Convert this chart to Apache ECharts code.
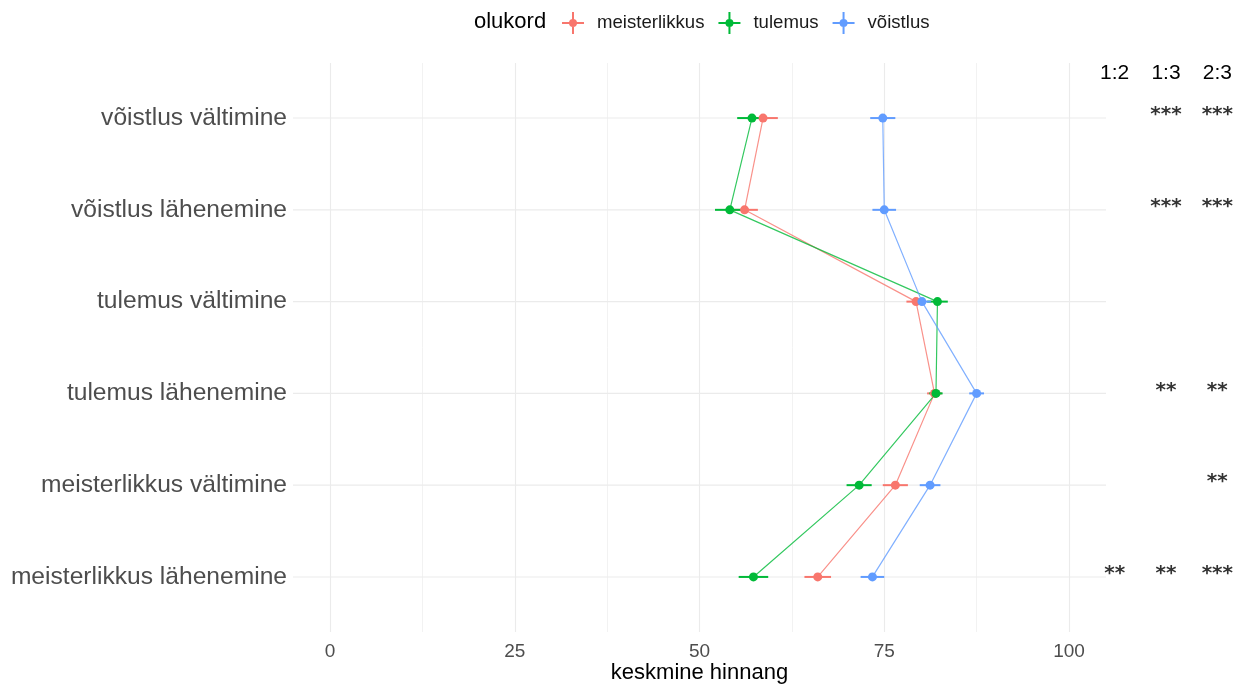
<!DOCTYPE html>
<html>
<head>
<meta charset="utf-8">
<title>keskmine hinnang</title>
<script src="https://cdn.jsdelivr.net/npm/echarts@6/dist/echarts.min.js"></script>
<style>
  html, body { margin: 0; padding: 0; background: #fff; }
  #chart { width: 1244px; height: 686px; }
</style>
</head>
<body>
<div id="chart"></div>
<script>
// kategooriad ülevalt alla
var categories = [
  'võistlus vältimine',
  'võistlus lähenemine',
  'tulemus vältimine',
  'tulemus lähenemine',
  'meisterlikkus vältimine',
  'meisterlikkus lähenemine'
];
var groups = ['meisterlikkus', 'tulemus', 'võistlus'];

var meisterlikkusMean = [58.6, 56.1, 79.3, 81.8, 76.5, 66.0];
var meisterlikkusSe = [2.0, 1.8, 1.3, 1.0, 1.7, 1.8];
var tulemusMean = [57.1, 54.1, 82.2, 82.0, 71.6, 57.3];
var tulemusSe = [2.0, 2.0, 1.4, 0.9, 1.7, 2.0];
var voistlusMean = [74.8, 75.0, 80.1, 87.5, 81.2, 73.4];
var voistlusSe = [1.7, 1.6, 1.2, 1.0, 1.4, 1.6];

// paariviisilised võrdlused
var pairLabels = ['1:2', '1:3', '2:3'];
var sig12 = ['', '', '', '', '', '**'];
var sig13 = ['***', '***', '', '**', '', '**'];
var sig23 = ['***', '***', '', '**', '**', '***'];

var colors = ['#F8766D', '#00BA38', '#619CFF'];
var means = [meisterlikkusMean, tulemusMean, voistlusMean];
var ses = [meisterlikkusSe, tulemusSe, voistlusSe];
var font = 'Liberation Sans, Arial, sans-serif';

var chart = echarts.init(document.getElementById('chart'));

function errorBar(params, api) {
  var a = api.coord([api.value(0), api.value(2)]);
  var b = api.coord([api.value(1), api.value(2)]);
  return {
    type: 'line',
    shape: { x1: a[0], y1: a[1], x2: b[0], y2: b[1] },
    style: { stroke: api.visual('color'), lineWidth: 2 }
  };
}

var series = [];

// horisontaalsed abijooned
series.push({
  type: 'custom',
  xAxisIndex: 1,
  yAxisIndex: 1,
  silent: true,
  z: 0,
  data: categories.map(function (c, i) { return [i]; }),
  renderItem: function (params, api) {
    var a = api.coord([0, api.value(0)]);
    var b = api.coord([1, api.value(0)]);
    return {
      type: 'line',
      shape: { x1: a[0], y1: a[1], x2: b[0], y2: b[1] },
      style: { stroke: '#ebebeb', lineWidth: 1.1 }
    };
  }
});

groups.forEach(function (g, k) {
  series.push({
    name: g,
    type: 'custom',
    xAxisIndex: 0,
    yAxisIndex: 0,
    itemStyle: { color: colors[k] },
    encode: { x: [0, 1], y: 2 },
    data: means[k].map(function (v, i) { return [v - ses[k][i], v + ses[k][i], i]; }),
    renderItem: errorBar,
    z: 2
  });
  series.push({
    name: g,
    type: 'line',
    xAxisIndex: 0,
    yAxisIndex: 0,
    symbol: 'circle',
    symbolSize: 9,
    itemStyle: { color: colors[k] },
    lineStyle: { width: 1.2, opacity: 0.8 },
    data: means[k].map(function (v, i) { return [v, i]; }),
    z: 3
  });
});

// tärnid
var starData = [];
var starText = [];
[sig12, sig13, sig23].forEach(function (col, c) {
  col.forEach(function (s, r) {
    if (s) { starData.push([c, r]); starText.push(s); }
  });
});
series.push({
  type: 'custom',
  xAxisIndex: 2,
  yAxisIndex: 2,
  silent: true,
  data: starData,
  renderItem: function (params, api) {
    var p = api.coord([api.value(0), api.value(1)]);
    return {
      type: 'text',
      x: p[0],
      y: p[1] - 3,
      style: {
        text: starText[params.dataIndex],
        font: 'bold 20px DejaVu Sans',
        fill: '#333',
        align: 'center',
        verticalAlign: 'middle'
      }
    };
  }
});

var legendIcon = 'path://M0,10h22v2h-22z M10,0h2v22h-2z M11,7a4,4 0 1,1 0,8a4,4 0 1,1 0,-8z';

chart.setOption({
  animation: false,
  textStyle: { fontFamily: font },
  title: {
    text: 'olukord',
    left: 474,
    top: 11,
    padding: 0,
    textStyle: { fontSize: 22, fontWeight: 'normal', color: '#000', fontFamily: font }
  },
  legend: {
    left: 562,
    top: 12,
    padding: 0,
    itemWidth: 22,
    itemHeight: 22,
    itemGap: 14,
    data: groups.map(function (g) { return { name: g, icon: legendIcon }; }),
    textStyle: { fontSize: 18.6, color: '#1a1a1a', padding: [0, 0, 0, 8], fontFamily: font }
  },
  grid: [
    { left: 330, right: 175, top: 63, bottom: 54, outerBoundsMode: 'none' },
    { left: 293, right: 138, top: 63, bottom: 54, outerBoundsMode: 'none' },
    { left: 1089, right: 1, top: 63, bottom: 54, outerBoundsMode: 'none' }
  ],
  xAxis: [
    {
      type: 'value',
      gridIndex: 0,
      min: 0,
      max: 100,
      interval: 25,
      name: 'keskmine hinnang',
      nameLocation: 'middle',
      nameGap: 30,
      nameMoveOverlap: false,
      nameTextStyle: { fontSize: 22, color: '#000', fontFamily: font },
      axisLine: { show: false },
      axisTick: { show: false },
      axisLabel: { fontSize: 19, color: '#4d4d4d', margin: 10 },
      splitLine: { show: true, lineStyle: { color: '#ebebeb', width: 1.1 } },
      minorTick: { show: false, splitNumber: 2 },
      minorSplitLine: { show: true, lineStyle: { color: '#efefef', width: 0.8 } }
    },
    {
      type: 'value',
      gridIndex: 1,
      min: 0,
      max: 1,
      show: false
    },
    {
      type: 'category',
      gridIndex: 2,
      data: pairLabels,
      position: 'top',
      axisLine: { show: false },
      axisTick: { show: false },
      splitLine: { show: false },
      axisLabel: { inside: true, margin: 0, fontSize: 21, color: '#000' }
    }
  ],
  yAxis: [
    {
      type: 'value',
      gridIndex: 0,
      min: -0.6,
      max: 5.6,
      interval: 0.2,
      inverse: true,
      axisLine: { show: false },
      axisTick: { show: false },
      splitLine: { show: false },
      axisLabel: {
        fontSize: 24.6,
        color: '#4d4d4d',
        margin: 43,
        formatter: function (v) {
          var i = Math.round(v);
          return Math.abs(v - i) < 1e-6 && categories[i] ? categories[i] : '';
        }
      }
    },
    { type: 'value', gridIndex: 1, min: -0.6, max: 5.6, inverse: true, show: false },
    { type: 'value', gridIndex: 2, min: -0.6, max: 5.6, inverse: true, show: false }
  ],
  series: series
});
</script>
</body>
</html>
